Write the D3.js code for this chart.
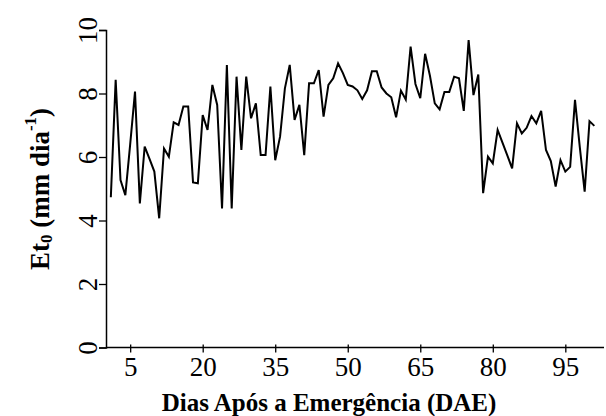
<!DOCTYPE html>
<html>
<head>
<meta charset="utf-8">
<script src="https://cdn.jsdelivr.net/npm/d3@7"></script>
<style>
  html, body { margin: 0; padding: 0; background: #fff; }
  svg { display: block; }
  svg text { font-family: "Liberation Serif", "Times New Roman", Times, serif; }
</style>
</head>
<body>
<div id="chart"></div>
<script>
// Days after emergence (DAE)
const days = [
  1, 2, 3, 4, 5, 6, 7, 8, 9, 10, 11, 12, 13, 14, 15, 16, 17, 18, 19, 20,
  21, 22, 23, 24, 25, 26, 27, 28, 29, 30, 31, 32, 33, 34, 35, 36, 37, 38, 39, 40,
  41, 42, 43, 44, 45, 46, 47, 48, 49, 50, 51, 52, 53, 54, 55, 56, 57, 58, 59, 60,
  61, 62, 63, 64, 65, 66, 67, 68, 69, 70, 71, 72, 73, 74, 75, 76, 77, 78, 79, 80,
  81, 82, 83, 84, 85, 86, 87, 88, 89, 90, 91, 92, 93, 94, 95, 96, 97, 98, 99, 100, 101
];

// Reference evapotranspiration (mm/day)
const et0 = [
  4.73, 8.43, 5.27, 4.80, 6.40, 8.06, 4.54, 6.33, 5.94, 5.54,
  4.07, 6.27, 6.01, 7.09, 7.01, 7.59, 7.59, 5.20, 5.17, 7.32,
  6.85, 8.27, 7.64, 4.38, 8.90, 4.38, 8.53, 6.22, 8.53, 7.22,
  7.69, 6.06, 6.06, 8.22, 5.90, 6.64, 8.16, 8.90, 7.17, 7.64,
  6.06, 8.32, 8.32, 8.74, 7.27, 8.27, 8.48, 8.95, 8.64, 8.27,
  8.22, 8.10, 7.83, 8.10, 8.70, 8.70, 8.19, 8.00, 7.88, 7.25,
  8.09, 7.81, 9.48, 8.30, 7.85, 9.25, 8.56, 7.69, 7.50, 8.05,
  8.05, 8.53, 8.48, 7.45, 9.68, 7.95, 8.60, 4.86, 6.01, 5.80,
  6.85, 6.45, 6.05, 5.64, 7.06, 6.74, 6.92, 7.29, 7.06, 7.45,
  6.22, 5.87, 5.07, 5.90, 5.54, 5.69, 7.80, 6.30, 4.91, 7.13, 6.98
];

const xTicks = [5, 20, 35, 50, 65, 80, 95];
const yTicks = [0, 2, 4, 6, 8, 10];

const width = 606, height = 416;
const margin = { top: 30, right: 2, bottom: 68.5, left: 106 };
const font = '"Liberation Serif", "Times New Roman", Times, serif';

const svg = d3.select("#chart").append("svg")
  .attr("width", width)
  .attr("height", height);

const x = d3.scaleLinear()
  .domain([0, 103])
  .range([margin.left, width - margin.right]);

const y = d3.scaleLinear()
  .domain([0, 10])
  .range([height - margin.bottom, margin.top]);

// x axis: ticks cross the line
const xAxis = svg.append("g")
  .attr("transform", `translate(0,${y(0)})`)
  .call(d3.axisBottom(x).tickValues(xTicks).tickSize(5).tickPadding(4));
xAxis.attr("font-family", null).attr("font-size", null);
xAxis.select(".domain").attr("d", `M${x(0)},0H${x(103)}`).attr("stroke-width", 1.5);
xAxis.selectAll(".tick line").attr("y1", -3).attr("stroke-width", 1.3);
xAxis.selectAll(".tick text")
  .style("font-family", font)
  .style("font-size", "27px")
  .attr("fill", "#000");

// y axis with rotated labels
const yAxis = svg.append("g")
  .attr("transform", `translate(${x(0)},0)`)
  .call(d3.axisLeft(y).tickValues(yTicks).tickSizeOuter(0).tickSize(7));
yAxis.attr("font-family", null).attr("font-size", null);
yAxis.select(".domain").attr("stroke-width", 1.5);
yAxis.selectAll(".tick line").attr("stroke-width", 1.3);
yAxis.selectAll(".tick text")
  .style("font-family", font)
  .style("font-size", "27px")
  .attr("fill", "#000")
  .attr("x", null)
  .attr("dy", null)
  .attr("text-anchor", "middle")
  .attr("transform", "translate(-18,0) rotate(-90)")
  .attr("dominant-baseline", "central");

// the series line
const line = d3.line()
  .x((d, i) => x(days[i]))
  .y(d => y(d));

svg.append("path")
  .datum(et0)
  .attr("fill", "none")
  .attr("stroke", "#000")
  .attr("stroke-width", 2)
  .attr("d", line);

// axis titles
svg.append("text")
  .attr("x", 329)
  .attr("y", 411)
  .attr("text-anchor", "middle")
  .style("font-family", font)
  .style("font-weight", "bold")
  .style("font-size", "25px")
  .text("Dias Após a Emergência (DAE)");

const yTitle = svg.append("text")
  .attr("transform", `translate(40,189) rotate(-90)`)
  .attr("text-anchor", "middle")
  .attr("dominant-baseline", "central")
  .style("font-family", font)
  .style("font-weight", "bold")
  .style("font-size", "27px");
yTitle.append("tspan").text("Et");
yTitle.append("tspan").style("font-size", "17px").attr("dy", 6).text("0");
yTitle.append("tspan").attr("dy", -6).text(" (mm dia");
yTitle.append("tspan").style("font-size", "17px").attr("dy", -10).text("-1");
yTitle.append("tspan").attr("dy", 10).text(")");
</script>
</body>
</html>
